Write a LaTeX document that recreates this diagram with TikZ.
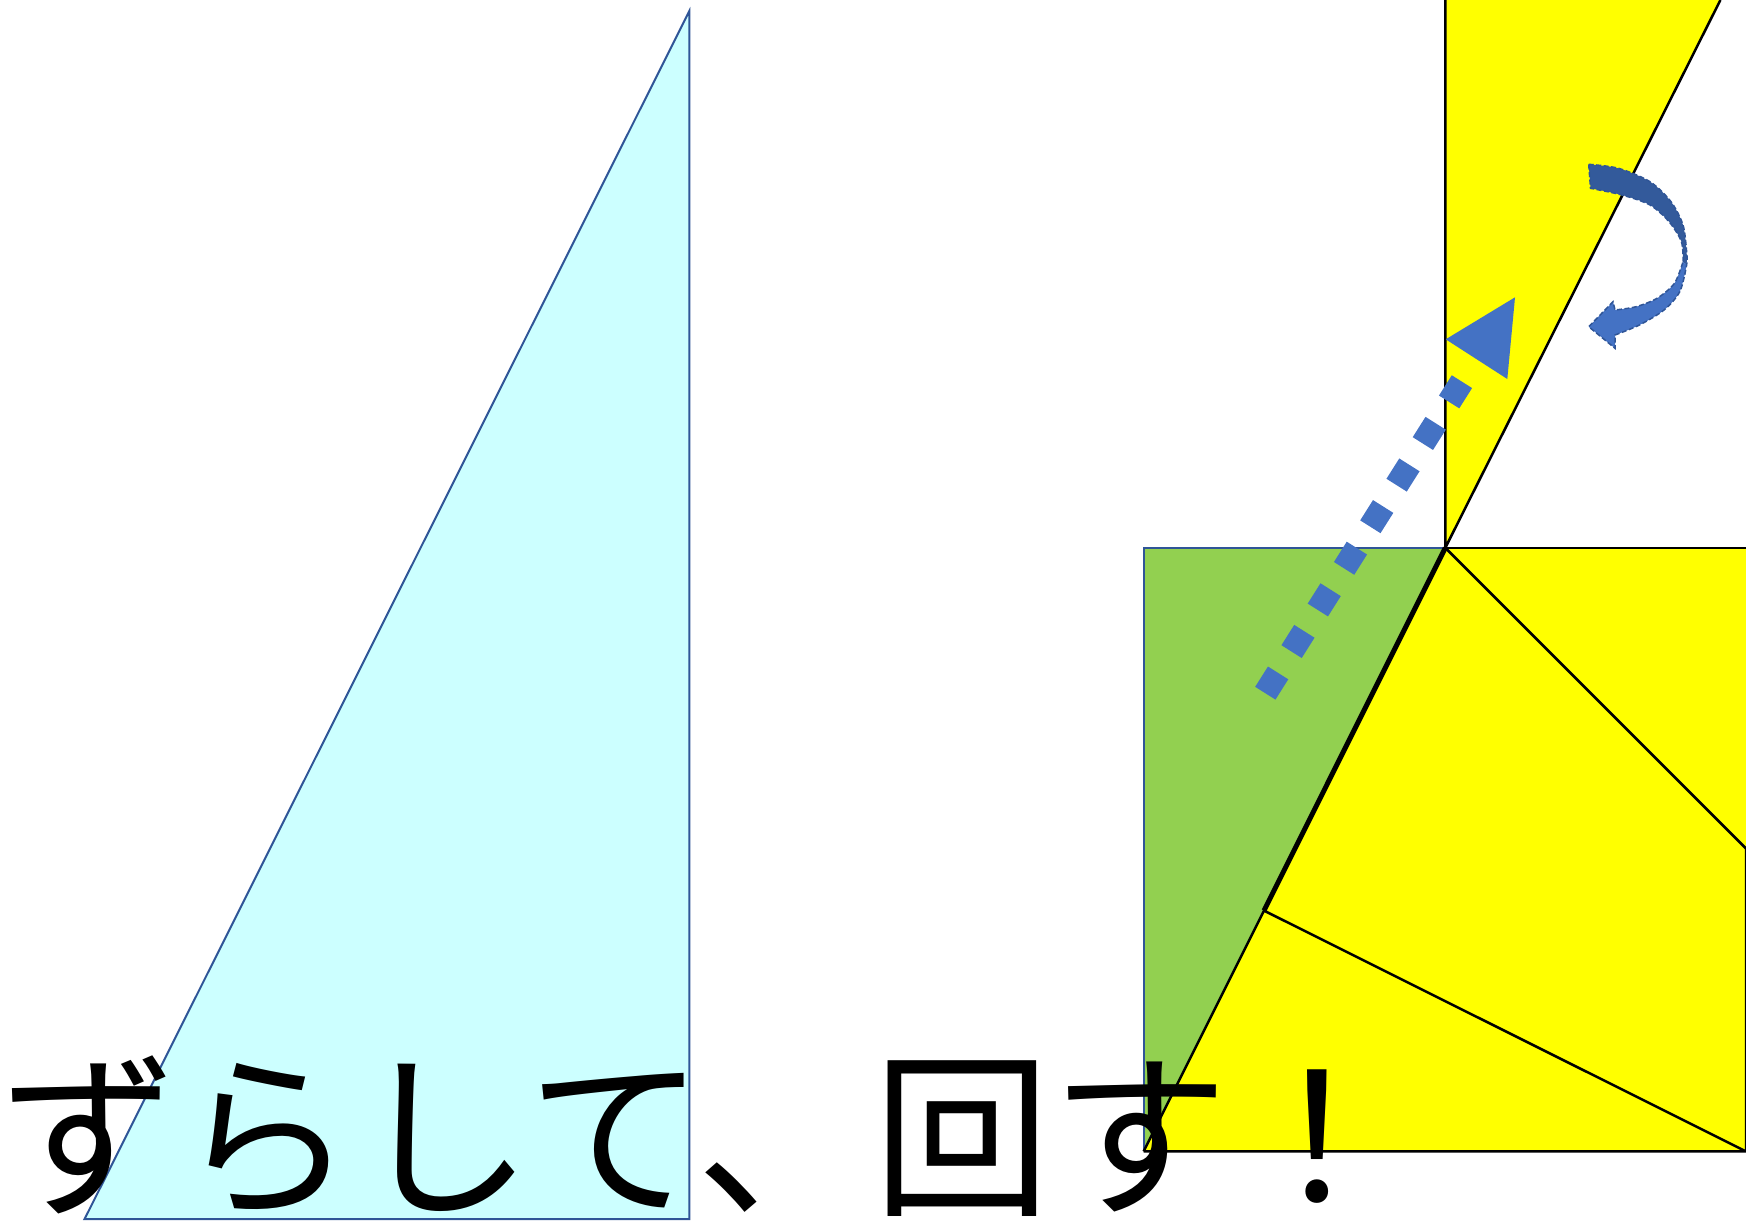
\documentclass[tikz,border=0pt]{standalone}
\usepackage{fontspec}
\newfontfamily\jpfont{Noto Sans CJK JP}
\definecolor{paleCyan}{HTML}{CCFFFF}
\definecolor{edgeBlue}{HTML}{2F5597}
\definecolor{leafGreen}{HTML}{92D050}
\definecolor{arrowBlue}{HTML}{4472C4}
\definecolor{shadeBlue}{HTML}{335A9B}
\definecolor{pieceYellow}{HTML}{FFFF00}

\begin{document}
\begin{tikzpicture}[x=0.2mm,y=-0.2mm,line join=miter,
				piece/.style={draw=black,line width=0.5mm},
				cut/.style={piece,line width=1mm},
				hop/.style={draw=arrowBlue,line width=4.8mm,dash pattern=on 4.8mm off 5.04mm},
				turnrim/.style={draw=edgeBlue,line width=0.3mm,dash pattern=on 1mm off 0.5mm},
				slogan/.style={font=\jpfont\fontsize{101pt}{101pt}\selectfont,inner sep=0,anchor=base west}]
				
				\useasboundingbox (0,0) rectangle (1746,1222);
				
				% corners of the pieces
				\coordinate (apex) at (689.3,11);
				\coordinate (foot) at (84.6,1219);
				\coordinate (right) at (689.3,1219);
				\coordinate (V) at (1445.3,547.8);
				\coordinate (B) at (1143.6,1151.4);
				\coordinate (C) at (1746,1151.4);
				\coordinate (G) at (1143.6,547.8);
				\coordinate (P) at (1264,910.6);
				\coordinate (topL) at (1445.3,0);
				\coordinate (topR) at (1720.4,0);
				\coordinate (edgeT) at (1746,547.8);
				\coordinate (edgeM) at (1746,848.5);
				
				% left triangle
				\filldraw[fill=paleCyan,draw=edgeBlue,line width=0.4mm] (apex) -- (foot) -- (right) -- cycle;
				
				% right figure
				\fill[pieceYellow] (topL) -- (topR) -- (V) -- cycle;
				\fill[pieceYellow] (V) -- (edgeT) -- (C) -- (B) -- cycle;
				\fill[leafGreen] (G) -- (V) -- (B) -- cycle;
				\draw[edgeBlue,line width=0.4mm] (B) -- (G) -- (V);
				\draw[piece] (topL) -- (V) -- (topR);
				\draw[piece] (V) -- (edgeT);
				\draw[piece] (V) -- (edgeM) -- (C);
				\draw[piece] (B) -- (C) -- (P) -- (B);
				\draw[cut] (V) -- (P);
				
				% shift arrow
				\coordinate (hopS) at (1265.3,693.2);
				\coordinate (hopE) at (1462,381.5);
				\draw[hop] (hopS) -- (hopE);
				\fill[arrowBlue] (1445.7,339.3) -- (1515,297.3) -- (1507.3,379) -- cycle;
				
				% turn arrow
				\fill[shadeBlue] plot[smooth] coordinates {(1588.7,164.3) (1618.5,168.3) (1650,181.7) (1671,201.7) (1683,225) (1686.6,251.7) (1686.6,265)}
				-- plot[smooth] coordinates {(1683,261.7) (1681.4,241.7) (1669,221.7) (1650,205) (1622,195) (1590.5,188.3)} -- cycle;
				\fill[arrowBlue] plot[smooth] coordinates {(1686.6,265) (1679.7,291.7) (1664,310) (1639.4,325) (1615,335)}
				-- (1615,348.3) -- (1588.7,326.7) -- (1613,301.7) -- (1615,310)
				-- plot[smooth] coordinates {(1615,310) (1636,306.7) (1657,298.3) (1674.4,283.3) (1683,261.7)} -- cycle;
				\draw[turnrim] plot[smooth] coordinates {(1588.7,164.3) (1618.5,168.3) (1650,181.7) (1671,201.7) (1683,225) (1686.6,251.7) (1686.6,265) (1679.7,291.7) (1664,310) (1639.4,325) (1615,335)}
				-- (1615,348.3) -- (1588.7,326.7) -- (1613,301.7) -- (1615,310)
				-- plot[smooth] coordinates {(1615,310) (1636,306.7) (1657,298.3) (1674.4,283.3) (1683,261.7)};
				\draw[turnrim] plot[smooth] coordinates {(1683,261.7) (1681.4,241.7) (1669,221.7) (1650,205) (1622,195) (1590.5,188.3)} -- (1588.7,164.3);
				
				\node[slogan] (motto) at (0,1202) {ずらして、回す！};
				
			\end{tikzpicture}
\end{document}
